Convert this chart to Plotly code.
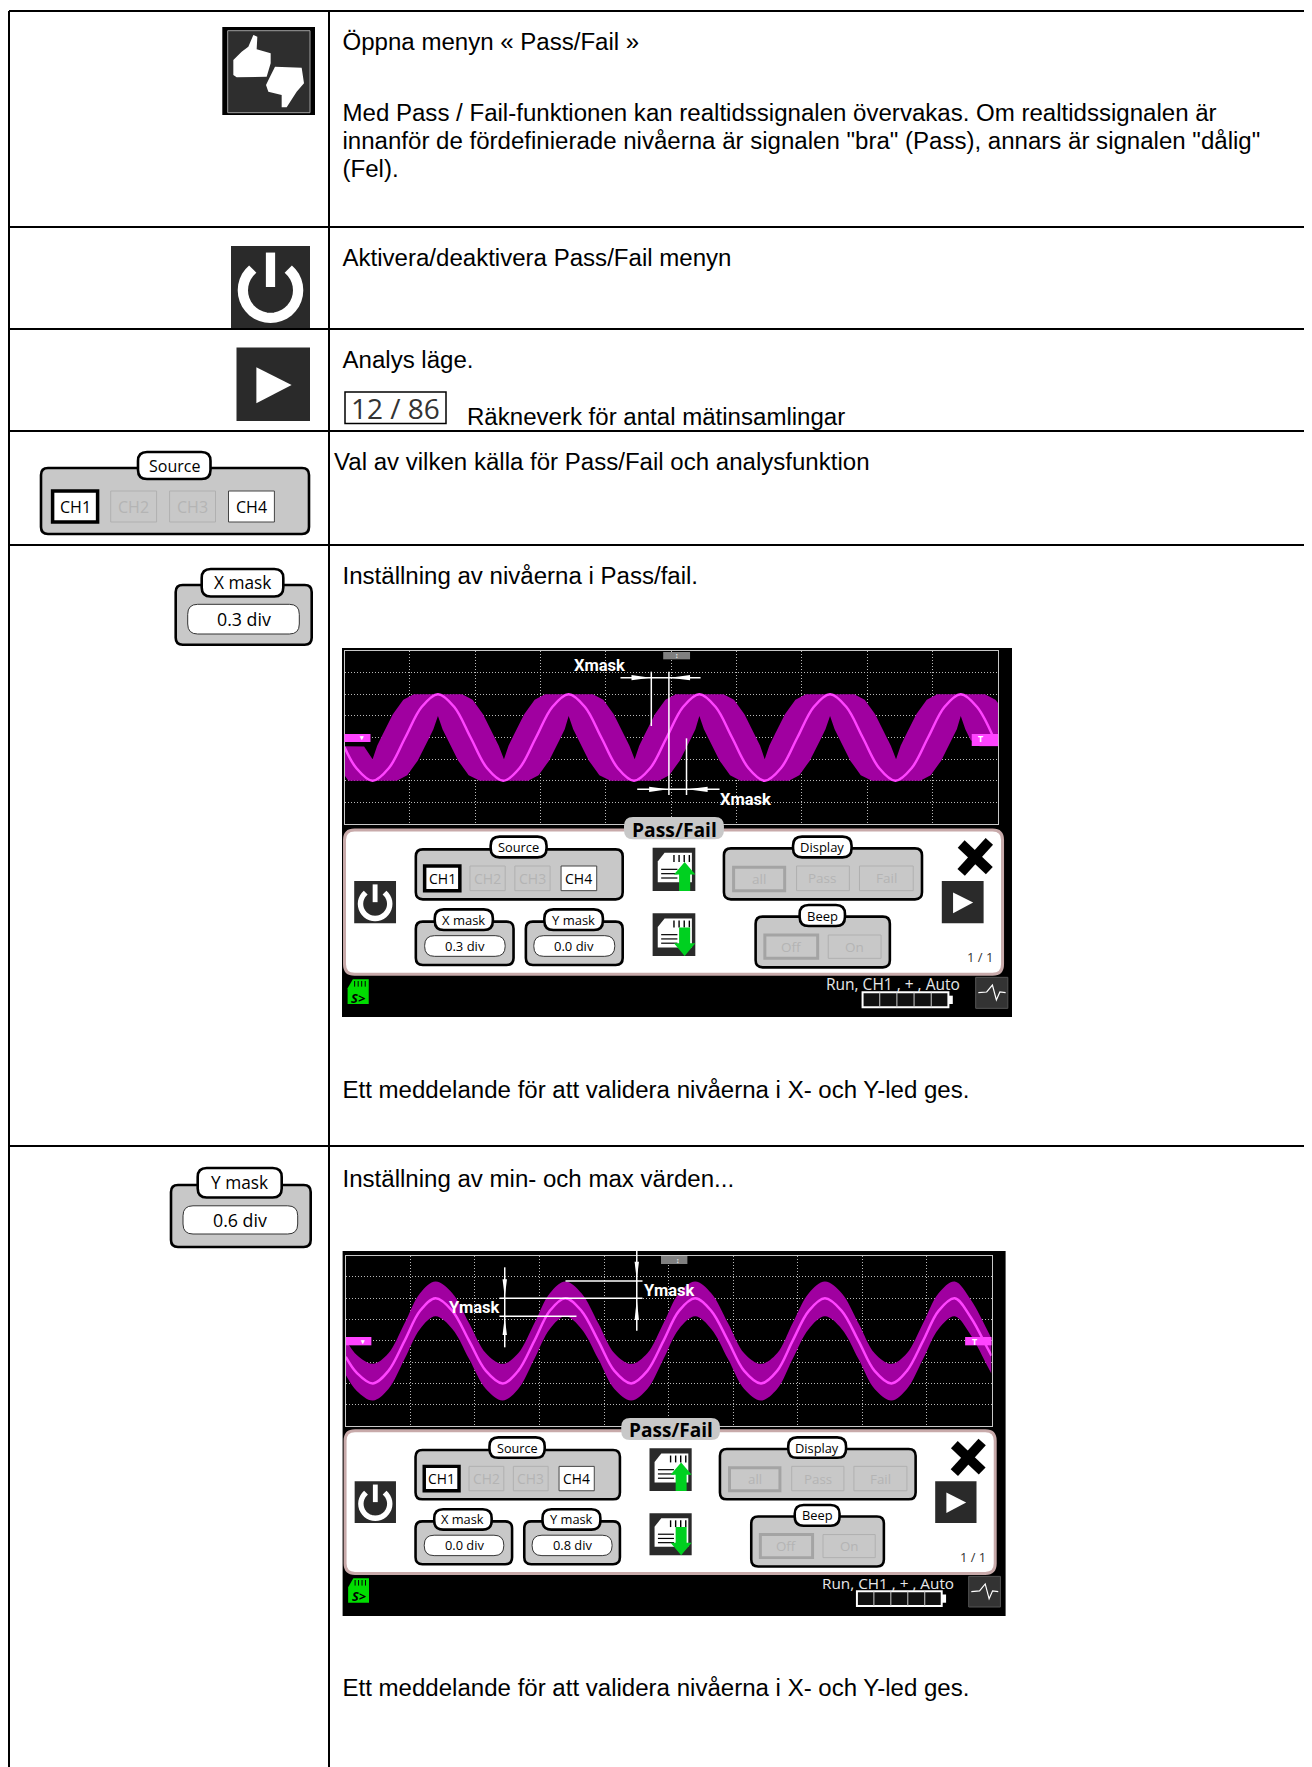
import math
import plotly.graph_objects as go

W, H = 1312, 1767
PAGE = 8  # the page's own margin; the figure starts there
BODY = "Liberation Sans"
SCR = "Open Sans"
NARROW = "Liberation Sans Narrow, Roboto, sans-serif"

# ---- table ----
ROW_LINES = [11, 227, 329, 431, 545, 1146]
COL_LINES = [9, 329]
BODY_TEXT = [
    "Öppna menyn « Pass/Fail »",
    "Med Pass / Fail-funktionen kan realtidssignalen övervakas. Om realtidssignalen är",
    "innanför de fördefinierade nivåerna är signalen \"bra\" (Pass), annars är signalen \"dålig\"",
    "(Fel).",
    "Aktivera/deaktivera Pass/Fail menyn",
    "Analys läge.",
    "Räkneverk för antal mätinsamlingar",
    "Val av vilken källa för Pass/Fail och analysfunktion",
    "Inställning av nivåerna i Pass/fail.",
    "Ett meddelande för att validera nivåerna i X- och Y-led ges.",
    "Inställning av min- och max värden...",
    "Ett meddelande för att validera nivåerna i X- och Y-led ges.",
]
BODY_X = [342.5, 342.5, 342.5, 342.5, 342.5, 342.5, 467, 334, 342.5, 342.5, 342.5, 342.5]
BODY_Y = [44.3, 115.3, 143.3, 171.3, 260.3, 362.3, 419.3, 464.3, 578.3, 1092.3, 1181.3, 1690.3]

# ---- waveform 1 (in scope divisions) ----
W1_TOP = [(0,-.40),(.30,-.42),(.43,-1),(.50,-.38),(.58,.12),(.74,1.07),(.90,1.75),(1.06,2),
          (1.80,2),(1.96,1.75),(2.12,1.07),(2.28,.12),(2.36,-.38),(2.44,-1),(2.51,-.38),(2.59,.12),(2.75,1.07),(2.91,1.75),(3.07,2),
          (3.80,2),(3.96,1.75),(4.12,1.07),(4.28,.12),(4.36,-.38),(4.44,-1),(4.51,-.38),(4.59,.12),(4.75,1.07),(4.91,1.75),(5.07,2),
          (5.80,2),(5.96,1.75),(6.12,1.07),(6.28,.12),(6.36,-.38),(6.43,-1),(6.50,-.38),(6.58,.12),(6.74,1.07),(6.90,1.75),(7.06,2),
          (7.80,2),(7.96,1.75),(8.12,1.07),(8.28,.12),(8.36,-.38),(8.44,-1),(8.51,-.38),(8.59,.12),(8.75,1.07),(8.91,1.75),(9.07,2),
          (9.80,2),(9.96,1.75),(10,1.6)]
W1_BOT = [(0,-1.75),(.06,-2),(.80,-2),(.96,-1.75),(1.12,-1.07),(1.28,-.12),(1.36,.38),(1.43,1),(1.50,.38),(1.58,-.12),(1.74,-1.07),(1.90,-1.75),(2.07,-2),
          (2.81,-2),(2.97,-1.75),(3.13,-1.07),(3.29,-.12),(3.37,.38),(3.43,1),(3.50,.38),(3.58,-.12),(3.74,-1.07),(3.90,-1.75),(4.07,-2),
          (4.81,-2),(4.97,-1.75),(5.13,-1.07),(5.29,-.12),(5.37,.38),(5.43,1),(5.50,.38),(5.58,-.12),(5.74,-1.07),(5.90,-1.75),(6.06,-2),
          (6.80,-2),(6.96,-1.75),(7.12,-1.07),(7.28,-.12),(7.36,.38),(7.43,1),(7.50,.38),(7.58,-.12),(7.74,-1.07),(7.90,-1.75),(8.07,-2),
          (8.81,-2),(8.97,-1.75),(9.13,-1.07),(9.29,-.12),(9.37,.38),(9.43,1),(9.50,.38),(9.58,-.12),(9.72,-.4),(10,-.4)]
W1_CX = [0,.18,.43,.68,.93,1.18,1.43,1.68,1.93,2.18,2.43,2.68,2.93,3.18,3.43,3.68,3.93,4.18,4.43,4.68,4.93,5.18,5.43,5.68,5.93,6.18,6.43,6.68,6.93,7.18,7.43,7.68,7.93,8.18,8.43,8.68,8.93,9.18,9.43,9.68,9.93]
W1_CY = [-.44,-1.41,-2,-1.41,0,1.41,2,1.41,0,-1.41,-2,-1.41,0,1.41,2,1.41,0,-1.41,-2,-1.41,0,1.41,2,1.41,0,-1.41,-2,-1.41,0,1.41,2,1.41,0,-1.41,-2,-1.41,0,1.41,2,1.41,0]

# ---- waveform 2 (in scope divisions) ----
W2_X = [0,.17,.42,.66,.91,1.15,1.39,1.65,1.91,2.17,2.43,2.67,2.92,3.16,3.40,3.65,3.91,4.16,4.42,4.67,4.92,5.16,5.41,5.66,5.92,6.17,6.43,6.68,6.92,7.17,7.42,7.68,7.94,8.19,8.45,8.69,8.94,9.18,9.43,9.68,9.93,10]
W2_C = [-.75,-1.5,-2,-1.41,0,1.41,2,1.41,0,-1.41,-2,-1.41,0,1.41,2,1.41,0,-1.41,-2,-1.41,0,1.41,2,1.41,0,-1.41,-2,-1.41,0,1.41,2,1.41,0,-1.41,-2,-1.41,0,1.41,2,1.1,-.3,-.7]
W2_U = [.05,-.67,-1.08,-.58,.83,2.24,2.79,2.24,.83,-.58,-1.08,-.58,.83,2.24,2.79,2.24,.83,-.58,-1.08,-.58,.83,2.24,2.79,2.24,.83,-.58,-1.08,-.58,.83,2.24,2.79,2.24,.83,-.58,-1.08,-.58,.83,2.24,2.79,1.93,.53,.1]
W2_L = [-1.6,-2.35,-2.8,-2.26,-.85,.56,1.15,.56,-.85,-2.26,-2.8,-2.26,-.85,.56,1.15,.56,-.85,-2.26,-2.8,-2.26,-.85,.56,1.15,.56,-.85,-2.26,-2.8,-2.26,-.85,.56,1.15,.56,-.85,-2.26,-2.8,-2.26,-.85,.56,1.15,.26,-1.15,-1.55]

# ---- hand icons (thumbs) ----
THUMB_UP_X = [100,125,145,160,172,170,212,212,200,110,100]
THUMB_UP_Y = [120,95,80,45,50,88,100,130,170,172,165]
THUMB_DOWN_X = [225,305,312,290,260,245,245,205,198,210]
THUMB_DOWN_Y = [140,143,190,215,262,262,225,215,195,170]

BAND, TRACE = "#a000a0", "#ff44ff"
GREY, DIM, DARK = "#c8c8c8", "#b4b4b4", "#2a2a2a"

shapes, notes = [], []


def S(**k):
    k.setdefault("xref", "x")
    k.setdefault("yref", "y")
    k.setdefault("layer", "above")
    shapes.append(k)


def poly(pts, fill, lw=0, lc=None, closed=True):
    d = "M" + " L".join(f"{x:.2f},{y:.2f}" for x, y in pts) + (" Z" if closed else "")
    S(type="path", path=d, fillcolor=fill, line=dict(width=lw, color=lc or fill))


def rrect(x0, y0, x1, y1, r, fill, lw=0, lc=None, layer="above"):
    d = (f"M{x0+r},{y0} L{x1-r},{y0} Q{x1},{y0} {x1},{y0+r} L{x1},{y1-r} Q{x1},{y1} {x1-r},{y1} "
         f"L{x0+r},{y1} Q{x0},{y1} {x0},{y1-r} L{x0},{y0+r} Q{x0},{y0} {x0+r},{y0} Z")
    S(type="path", path=d, fillcolor=fill, line=dict(width=lw, color=lc or fill), layer=layer)


def rect(x0, y0, x1, y1, fill, lw=0, lc=None, layer="above"):
    S(type="rect", x0=x0, y0=y0, x1=x1, y1=y1, fillcolor=fill,
      line=dict(width=lw, color=lc or fill), layer=layer)


def line(x0, y0, x1, y1, c="white", w=1.5):
    S(type="line", x0=x0, y0=y0, x1=x1, y1=y1, line=dict(color=c, width=w))


def note(x, y, t, size, color="black", font=SCR, anchor="center"):
    notes.append(dict(x=x, y=y, xref="x", yref="y", text=t, showarrow=False, xanchor=anchor,
                      yanchor="middle", font=dict(family=font, size=size, color=color)))


def play(x0, y0, x1, y1):
    rect(x0, y0, x1, y1, DARK)
    w, h = x1 - x0, y1 - y0
    poly([(x0 + .27*w, y0 + .27*h), (x0 + .27*w, y0 + .76*h), (x0 + .75*w, y0 + .51*h)], "white")


def power(x0, y0, x1, y1):
    rect(x0, y0, x1, y1, DARK)
    w, h = x1 - x0, y1 - y0
    cx, cy = (x0 + x1) / 2, y0 + .54*h
    r, lw = .35*w, .13*w
    pts = [(cx + r*math.sin(math.radians(a)), cy - r*math.cos(math.radians(a))) for a in range(40, 325, 10)]
    d = "M" + " L".join(f"{x:.2f},{y:.2f}" for x, y in pts)
    S(type="path", path=d, line=dict(color="white", width=lw))
    line(cx, y0 + .08*h, cx, y0 + .5*h, "white", lw*.9)


def group(x0, y0, x1, y1, s):
    rrect(x0, y0, x1, y1, 7*s, GREY, 2.6*s, "black")


def label(x0, y0, x1, y1, t, size, s):
    rrect(x0, y0, x1, y1, 9*s, "white", 2.6*s, "black")
    note((x0 + x1) / 2, (y0 + y1) / 2, t, size*s)


def field(x0, y0, x1, y1, t, size, s):
    rrect(x0, y0, x1, y1, 10*s, "white", 1*s, "#333333")
    note((x0 + x1) / 2, (y0 + y1) / 2, t, size*s)


def button(x0, y0, x1, y1, t, size, s, state):
    if state == "sel":
        rect(x0, y0, x1, y1, "white", 3.5*s, "black")
        note((x0 + x1) / 2, (y0 + y1) / 2, t, size*s)
    elif state == "on":
        rect(x0, y0, x1, y1, "white", 1*s, "#444444")
        note((x0 + x1) / 2, (y0 + y1) / 2, t, size*s)
    elif state == "dimsel":
        rect(x0, y0, x1, y1, GREY, 3*s, "#a4a4a4")
        note((x0 + x1) / 2, (y0 + y1) / 2, t, size*s, DIM)
    else:
        rect(x0, y0, x1, y1, GREY, 1*s, "#b0b0b0")
        note((x0 + x1) / 2, (y0 + y1) / 2, t, size*s, DIM)


def sd_icon(x0, y0, x1, y1, up):
    rect(x0, y0, x1, y1, DARK)
    w, h = x1 - x0, y1 - y0
    poly([(x0+.28*w, y0+.12*h), (x0+.92*w, y0+.12*h), (x0+.92*w, y0+.8*h), (x0+.12*w, y0+.8*h), (x0+.12*w, y0+.32*h)], "white")
    for f in (.5, .62, .74, .86):
        line(x0+f*w, y0+.17*h, x0+f*w, y0+.33*h, "black", 1.4)
    for f in (.5, .6, .7):
        line(x0+.2*w, y0+f*h, x0+.58*w, y0+f*h, "black", 1.2)
    g = "#00d020"
    ax = x0 + .75*w
    if up:
        poly([(ax, y0+.33*h), (ax+.25*w, y0+.62*h), (ax+.13*w, y0+.62*h), (ax+.13*w, y0+h), (ax-.13*w, y0+h), (ax-.13*w, y0+.62*h), (ax-.25*w, y0+.62*h)], g)
    else:
        poly([(ax, y0+h), (ax+.25*w, y0+.7*h), (ax+.13*w, y0+.7*h), (ax+.13*w, y0+.33*h), (ax-.13*w, y0+.33*h), (ax-.13*w, y0+.7*h), (ax-.25*w, y0+.7*h)], g)


def screen(ix, iy, iw, ih, s, xval, yval):
    X = lambda v: ix + s*(v/2.272 - 12)
    Y = lambda v: iy + s*(v/3 + 172)
    rect(ix, iy, ix+iw, iy+ih, "black", layer="below")
    rrect(X(33), Y(30), X(1528), Y(463), 10*s, "white", 3*s, "#c8aaaa")
    rrect(X(668), Y(-9), X(895), Y(58), 9*s, GREY)
    note(X(782), Y(28), "<b>Pass/Fail</b>", 19.3*s)
    power(X(55), Y(183), X(150), Y(310))
    # source
    group(X(195), Y(88), X(665), Y(238), s)
    label(X(365), Y(50), X(492), Y(112), "Source", 12.8, s)
    button(X(215), Y(138), X(295), Y(212), "CH1", 14, s, "sel")
    button(X(318), Y(138), X(398), Y(212), "CH2", 14, s, "off")
    button(X(420), Y(138), X(500), Y(212), "CH3", 14, s, "off")
    button(X(525), Y(138), X(606), Y(212), "CH4", 14, s, "on")
    # masks
    group(X(195), Y(305), X(417), Y(435), s)
    label(X(238), Y(268), X(370), Y(330), "X mask", 13, s)
    field(X(215), Y(347), X(398), Y(409), xval, 13, s)
    group(X(445), Y(305), X(665), Y(435), s)
    label(X(487), Y(268), X(620), Y(330), "Y mask", 13, s)
    field(X(463), Y(347), X(647), Y(409), yval, 13, s)
    # sd
    sd_icon(X(733), Y(83), X(830), Y(213), True)
    sd_icon(X(733), Y(280), X(830), Y(408), False)
    # display
    group(X(895), Y(85), X(1345), Y(238), s)
    label(X(1052), Y(50), X(1185), Y(112), "Display", 13, s)
    button(X(917), Y(142), X(1033), Y(212), "all", 13.5, s, "dimsel")
    button(X(1060), Y(138), X(1180), Y(212), "Pass", 13.5, s, "off")
    button(X(1203), Y(138), X(1325), Y(212), "Fail", 13.5, s, "off")
    # beep
    group(X(967), Y(290), X(1272), Y(442), s)
    label(X(1067), Y(255), X(1170), Y(318), "Beep", 13, s)
    button(X(988), Y(345), X(1108), Y(415), "Off", 13.5, s, "dimsel")
    button(X(1132), Y(345), X(1252), Y(415), "On", 13.5, s, "off")
    # close + play
    line(X(1434), Y(72), X(1498), Y(152), "black", 10*s)
    line(X(1498), Y(64), X(1434), Y(157), "black", 10*s)
    play(X(1390), Y(183), X(1485), Y(310))
    note(X(1477), Y(412), "1 / 1", 13*s, "#333333")
    # status bar
    poly([(X(52), Y(478)), (X(88), Y(478)), (X(88), Y(552)), (X(40), Y(552)), (X(40), Y(505))], "#00dd00")
    for f in (56, 64, 72, 80):
        line(X(f), Y(483), X(f), Y(500), "black", 1)
    note(X(64), Y(533), "<b><i>S&gt;</i></b>", 13*s, "black")
    note(X(1437), Y(492), "Run, CH1 , + , Auto", 15.5*s, "#e8e8e8", anchor="right")
    rect(X(1210), Y(517), X(1405), Y(562), "#111111", 2*s, "white")
    rect(X(1405), Y(527), X(1415), Y(552), "white")
    for f in (1249, 1288, 1327, 1366):
        line(X(f), Y(517), X(f), Y(562), "#cccccc", 1)
    rect(X(1467), Y(472), X(1540), Y(565), "#333333", 1, "#555555")
    poly([(X(1473), Y(518)), (X(1492), Y(516)), (X(1505), Y(495)), (X(1514), Y(540)), (X(1522), Y(516)), (X(1535), Y(518))],
         "rgba(0,0,0,0)", 1.2, "white", closed=False)


# ---------- table ----------
for y in ROW_LINES:
    line(COL_LINES[0], y, W, y, "black", 2)
for x in COL_LINES:
    line(x, ROW_LINES[0], x, H, "black", 2)

# ---------- left column icons ----------
rect(222.3, 27, 315, 115, "#000000")
rect(227.7, 30.7, 310, 112.7, "#2e2e2e", 1, "#a0a0a0")
HX = lambda v: 200 + v/3
HY = lambda v: 20 + v/3
poly([(HX(a), HY(b)) for a, b in zip(THUMB_UP_X, THUMB_UP_Y)], "white")
poly([(HX(a), HY(b)) for a, b in zip(THUMB_DOWN_X, THUMB_DOWN_Y)], "white")
power(231, 246, 310, 328)
play(236.5, 347.5, 310, 421)
rect(345, 392, 446, 423.6, "white", 1.5, "black")
note(395.5, 408, "12 / 86", 28, "#333333")

group(41, 468, 309, 534, 1)
label(138, 452, 210.5, 479, "Source", 16, 1)
button(52.6, 491, 97.6, 522, "CH1", 16, 1, "sel")
button(110.7, 491, 156.6, 522, "CH2", 16, 1, "off")
button(169.6, 491, 215.5, 522, "CH3", 16, 1, "off")
button(228.5, 491, 274.4, 522, "CH4", 16, 1, "on")

group(175.7, 585, 311.7, 644.7, 1)
label(201.7, 569, 283.3, 596.5, "X mask", 17.3, 1)
field(187.7, 604.3, 299.3, 634, "0.3 div", 17.8, 1)

group(171, 1185, 310.7, 1247, 1)
label(197.7, 1168, 281.7, 1197.5, "Y mask", 17.3, 1)
field(183, 1205.8, 297.7, 1234, "0.6 div", 17.8, 1)

# ---------- screens ----------
screen(342, 648, 670, 369, 1, "0.3 div", "0.0 div")
screen(342.6, 1251, 663, 365, .988, "0.0 div", "0.8 div")


def tri_h(xt, xb, y, Xf, Yf):
    poly([(Xf(xt), Yf(y)), (Xf(xb), Yf(y-8)), (Xf(xb), Yf(y+8))], "white")


def tri_v(x, yt, yb, Xf, Yf):
    poly([(Xf(x), Yf(yt)), (Xf(x-5), Yf(yb)), (Xf(x+5), Yf(yb))], "white")


# overlays on scope 1
A = lambda v: v/2.272 + 330
B = lambda v: v/3 + 640
rect(A(757), B(36), A(818), B(58), "#808080")
rect(A(33), B(282), A(92), B(306), TRACE)
rect(A(1458), B(282), A(1518), B(318), TRACE)
note(A(72), B(293), "<b>▾</b>", 7, "white")
note(A(788), B(46), "<b>↕</b>", 7, "white")
note(A(1478), B(296), "<b>T</b>", 9, "white")
for x, y0, y1 in [(730, 95, 258), (770, 95, 465), (810, 295, 465)]:
    line(A(x), B(y0), A(x), B(y1))
line(A(660), B(113), A(842), B(113))
line(A(698), B(448), A(885), B(448))
tri_h(728, 685, 113, A, B)
tri_h(772, 818, 113, A, B)
tri_h(768, 725, 448, A, B)
tri_h(812, 858, 448, A, B)
note(A(613), B(75), "<b>Xmask</b>", 16.5, "white", NARROW)
note(A(945), B(477), "<b>Xmask</b>", 16.5, "white", NARROW)

# overlays on scope 2
C = lambda v: v/2.272 + 330
D = lambda v: v/3 + 1240
rect(C(752), D(48), C(812), D(72), "#808080")
rect(C(36), D(291), C(94), D(316), TRACE)
rect(C(1443), D(291), C(1503), D(316), TRACE)
note(C(73), D(303), "<b>▾</b>", 7, "white")
note(C(790), D(60), "<b>↕</b>", 7, "white")
note(C(1465), D(303), "<b>T</b>", 9, "white")
line(C(397), D(82), C(397), D(322))
line(C(697), D(33), C(697), D(272))
line(C(535), D(123), C(710), D(123))
line(C(385), D(175), C(710), D(175))
line(C(385), D(229), C(560), D(229))
tri_v(397, 172, 118, C, D)
tri_v(397, 232, 285, C, D)
tri_v(697, 120, 65, C, D)
tri_v(697, 178, 240, C, D)
note(C(328), D(203), "<b>Ymask</b>", 16.5, "white", NARROW)
note(C(770), D(152), "<b>Ymask</b>", 16.5, "white", NARROW)

# ---------- traces ----------
fig = go.Figure()
fig.add_trace(go.Scatter(x=BODY_X, y=BODY_Y, text=BODY_TEXT, mode="text", textposition="middle right",
                         textfont=dict(family=BODY, size=24.05, color="black"), xaxis="x", yaxis="y",
                         hoverinfo="skip", cliponaxis=False, showlegend=False))

top_x, top_y = zip(*W1_TOP)
bot_x, bot_y = zip(*W1_BOT)
fig.add_trace(go.Scatter(x=list(top_x) + list(bot_x)[::-1], y=list(top_y) + list(bot_y)[::-1], mode="lines",
                         fill="toself", fillcolor=BAND, line=dict(width=0), xaxis="x2", yaxis="y2",
                         hoverinfo="skip", showlegend=False))
fig.add_trace(go.Scatter(x=W1_CX, y=W1_CY, mode="lines", line=dict(color=TRACE, width=2.5, shape="spline"),
                         xaxis="x2", yaxis="y2", hoverinfo="skip", showlegend=False))

fig.add_trace(go.Scatter(x=W2_X, y=W2_U, mode="lines", line=dict(width=0, color=BAND, shape="spline"),
                         xaxis="x3", yaxis="y3", hoverinfo="skip", showlegend=False))
fig.add_trace(go.Scatter(x=W2_X, y=W2_L, mode="lines", fill="tonexty", fillcolor=BAND,
                         line=dict(width=0, color=BAND, shape="spline"), xaxis="x3", yaxis="y3",
                         hoverinfo="skip", showlegend=False))
fig.add_trace(go.Scatter(x=W2_X, y=W2_C, mode="lines", line=dict(color=TRACE, width=2.5, shape="spline"),
                         xaxis="x3", yaxis="y3", hoverinfo="skip", showlegend=False))

FW, FH = W - PAGE, H - PAGE


def scope_axes(px0, px1, py0, py1, x_rng, y_rng):
    common = dict(showgrid=True, griddash="1px,2px", gridcolor="#b8b8b8", gridwidth=1, zeroline=False,
                  showticklabels=False, ticks="", showline=True, linecolor="#c8c8c8", linewidth=1, mirror=True,
                  fixedrange=True)
    xa = dict(domain=[(px0-PAGE)/FW, (px1-PAGE)/FW], range=x_rng, dtick=1, tick0=0, **common)
    ya = dict(domain=[1 - (py1-PAGE)/FH, 1 - (py0-PAGE)/FH], range=y_rng, dtick=1, tick0=0, **common)
    return xa, ya


x2, y2 = scope_axes(344.5, 998, 651, 824, [0, 10], [-4, 4])
x3, y3 = scope_axes(345.8, 991.5, 1255.7, 1426, [0, 10], [-4, 4])
x2["anchor"], y2["anchor"], x3["anchor"], y3["anchor"] = "y2", "x2", "y3", "x3"

fig.update_layout(
    width=FW, height=FH, margin=dict(l=0, r=0, t=0, b=0), paper_bgcolor="white", plot_bgcolor="rgba(0,0,0,0)",
    showlegend=False,
    xaxis=dict(range=[PAGE, W], domain=[0, 1], visible=False, fixedrange=True),
    yaxis=dict(range=[H, PAGE], domain=[0, 1], visible=False, fixedrange=True),
    xaxis2=x2, yaxis2=y2, xaxis3=x3, yaxis3=y3,
    shapes=shapes, annotations=notes,
)
fig.write_html("out.html", config=dict(displayModeBar=False))
